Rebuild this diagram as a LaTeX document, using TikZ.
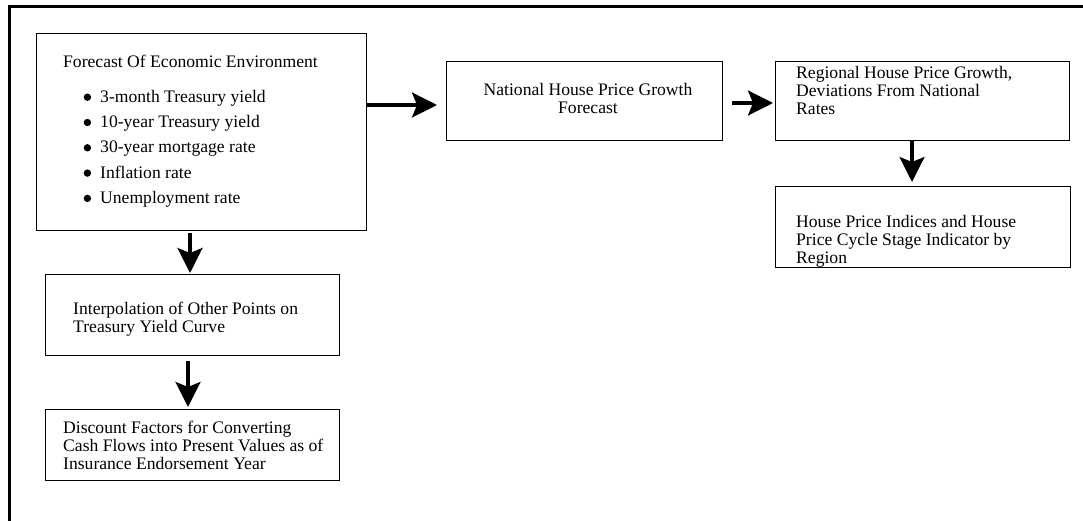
\documentclass[tikz,border=0pt]{standalone}
\usepackage{fontspec}
\setmainfont{Liberation Serif}
\usetikzlibrary{arrows.meta,calc}
\newcommand{\fstrut}{\rule{0pt}{13pt}}
\newcommand{\bitem}[1]{\hspace*{20.5pt}\makebox[16.5pt][l]{\tikz[baseline=0pt]\fill (3.7pt,5pt) circle[radius=3.7pt];}#1}
\begin{document}
\begin{tikzpicture}[x=1pt,y=-1pt,
  box/.style={draw=black, line width=0.9pt, rectangle, inner sep=0pt, outer sep=0pt, anchor=north west},
  txt/.style={anchor=north west, inner sep=0pt, align=left, font=\fontsize{17.6pt}{18.3pt}\selectfont},
  ctxt/.style={anchor=north, inner sep=0pt, align=center, font=\fontsize{17.6pt}{18.3pt}\selectfont},
  arr/.style={line width=3.1pt, -{Stealth[length=25pt,width=25pt,inset=5pt]}}
]
\useasboundingbox (0,0) rectangle (1083,521);
\draw[line width=2.6pt] (1083,6.5) -- (9.3,6.5) -- (9.3,521);

% boxes
\node[box, minimum width=330pt, minimum height=197pt] (b1) at (36,33) {};
\node[box, minimum width=294pt, minimum height=81pt] (b2) at (45,274) {};
\node[box, minimum width=294pt, minimum height=71pt] (b3) at (45,409) {};
\node[box, minimum width=276pt, minimum height=79pt] (nhp) at (446,61) {};
\node[box, minimum width=294pt, minimum height=79pt] (reg) at (775,61) {};
\node[box, minimum width=295pt, minimum height=81pt] (hpi) at (775,186) {};

% texts
\node[txt] (t1) at (63,54) {\fstrut Forecast Of Economic Environment\\[16.7pt]
  \bitem{3-month Treasury yield}\\[7pt]
  \bitem{10-year Treasury yield}\\[7pt]
  \bitem{30-year mortgage rate}\\[7pt]
  \bitem{Inflation rate}\\[7pt]
  \bitem{Unemployment rate}};
\node[txt] (t2) at (73,301) {\fstrut Interpolation of Other Points on\\Treasury Yield Curve};
\node[txt] (t3) at (63,420) {\fstrut Discount Factors for Converting\\Cash Flows into Present Values as of\\Insurance Endorsement Year};
\node[ctxt] (t4) at (588,82) {\fstrut National House Price Growth\\Forecast};
\node[txt] (t5) at (796,65) {\fstrut Regional House Price Growth,\\Deviations From National\\Rates};
\node[txt] (t6) at (796,214) {\fstrut House Price Indices and House\\Price Cycle Stage Indicator by\\Region};

% arrows
\draw[arr] ($(b1.east)+(0,-26.5)$) -- ($(nhp.west)+(-9,4.5)$);
\draw[arr] ($(nhp.east)+(10,2.5)$) -- ($(reg.west)+(-2,2.5)$);
\draw[arr] ($(b1.south)+(-11,3)$) -- ($(b2.north)+(-2,-1)$);
\draw[arr] ($(b2.south)+(-4,6)$) -- ($(b3.north)+(-4,-2)$);
\draw[arr] ($(reg.south)+(-10,1)$) -- ($(hpi.north)+(-10.5,-4)$);
\end{tikzpicture}
\end{document}
